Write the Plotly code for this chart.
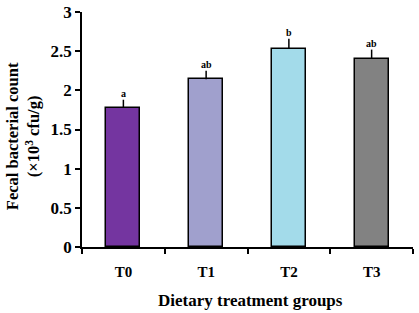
import plotly.graph_objects as go

groups = ["T0", "T1", "T2", "T3"]
means = [1.78, 2.14, 2.53, 2.40]
errors = [0.10, 0.11, 0.13, 0.12]
letters = ["a", "ab", "b", "ab"]
colors = ["#7435a0", "#acacdf", "#a3dbea", "#8a8a8a"]
pattern_fg = ["#7435a0", "#9090c8", "#a3dbea", "#666666"]
pattern_shape = ["", "-", "", "-"]

FONT = "Liberation Serif"
xpos = list(range(len(groups)))

fig = go.Figure()
fig.add_trace(go.Bar(
    x=xpos, y=means, width=0.41,
    marker=dict(color=colors, line=dict(color="black", width=1.5),
                pattern=dict(shape=pattern_shape, fgcolor=pattern_fg, fillmode="overlay",
                             fgopacity=0.3, size=2, solidity=0.4)),
    error_y=dict(type="data", array=errors, arrayminus=[0]*len(errors), symmetric=False,
                 color="black", thickness=1.5, width=0),
    showlegend=False,
))
fig.add_trace(go.Scatter(x=xpos, y=[0]*len(xpos), xaxis="x2", mode="markers",
                         marker=dict(opacity=0), showlegend=False, hoverinfo="skip"))

for xi, m, e, t in zip(xpos, means, errors, letters):
    fig.add_annotation(x=xi, y=m + e, text="<b>%s</b>" % t, showarrow=False, yanchor="bottom",
                       yshift=-1, font=dict(family=FONT, size=10, color="black"))

fig.add_annotation(xref="paper", yref="paper", x=-0.178, y=0.472, textangle=-90,
                   xanchor="center", yanchor="middle",
                   text="<b>Fecal bacterial count<br>(×10<sup>3</sup> cfu/g)</b>",
                   showarrow=False, font=dict(family=FONT, size=16.5, color="black"))
fig.add_annotation(xref="paper", yref="paper", x=0.51, y=-0.226,
                   xanchor="center", yanchor="middle",
                   text="<b>Dietary treatment groups</b>",
                   showarrow=False, font=dict(family=FONT, size=17, color="black"))

fig.update_layout(
    width=419, height=313,
    margin=dict(l=82, r=6, t=12, b=66),
    plot_bgcolor="white", paper_bgcolor="white",
    font=dict(family=FONT, color="black"),
    bargap=0,
    xaxis=dict(range=[-0.5, 3.5], tickvals=[-0.5, 0.5, 1.5, 2.5, 3.5], ticktext=[""]*5,
               ticks="outside", ticklen=5, tickwidth=1.5, tickcolor="black", automargin=False,
               showline=True, linecolor="black", linewidth=1.5, showgrid=False, zeroline=False),
    xaxis2=dict(range=[-0.5, 3.5], overlaying="x", side="bottom", tickvals=xpos, automargin=False,
                ticktext=["<b>%s</b>" % g for g in groups], ticks="", showline=False,
                showgrid=False, zeroline=False, tickfont=dict(family=FONT, size=15),
                ticklabelstandoff=14),
    yaxis=dict(range=[0, 3], tickvals=[0, 0.5, 1, 1.5, 2, 2.5, 3], automargin=False,
               ticktext=["<b>0</b>", "<b>0.5</b>", "<b>1</b>", "<b>1.5</b>", "<b>2</b>", "<b>2.5</b>", "<b>3</b>"],
               ticks="outside", ticklen=5, tickwidth=1.5, tickcolor="black",
               ticklabeloverflow="allow",
               showline=True, linecolor="black", linewidth=1.5, showgrid=False, zeroline=False,
               tickfont=dict(family=FONT, size=17)),
)

fig.write_html("out.html", config={"displayModeBar": False},
               post_script="document.body.style.margin='0';")
